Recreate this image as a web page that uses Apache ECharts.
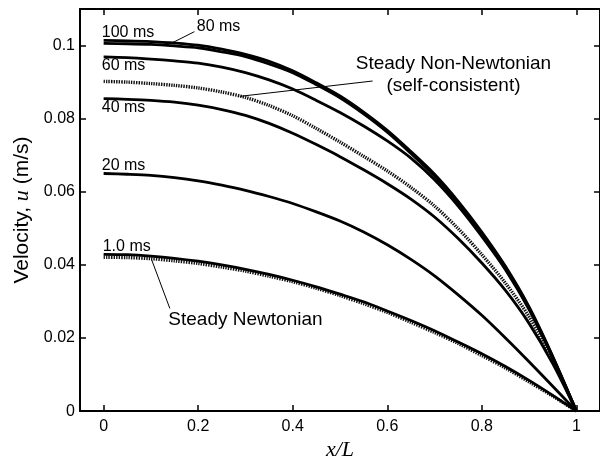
<!DOCTYPE html>
<html>
<head>
<meta charset="utf-8">
<script src="https://cdn.jsdelivr.net/npm/echarts@6/dist/echarts.min.js"></script>
<style>html,body{margin:0;padding:0;background:#fff}#c{width:600px;height:466px}</style>
</head>
<body>
<div id="c"></div>
<script>
// x positions (x/L)
const xs = [0, 0.05, 0.1, 0.15, 0.2, 0.25, 0.3, 0.35, 0.4, 0.45, 0.5, 0.55, 0.6, 0.65, 0.7, 0.75, 0.8, 0.85, 0.9, 0.95, 1.0];
// velocity profiles u (m/s)
const u100ms   = [0.1014, 0.1013, 0.1011, 0.1007, 0.1001, 0.0990, 0.0976, 0.0957, 0.0931, 0.0898, 0.0862, 0.0818, 0.0768, 0.0710, 0.0648, 0.0574, 0.0490, 0.0396, 0.0285, 0.0150, 0];
const u80ms    = [0.1006, 0.1005, 0.1003, 0.0999, 0.0994, 0.0983, 0.0970, 0.0950, 0.0926, 0.0893, 0.0857, 0.0813, 0.0763, 0.0705, 0.0643, 0.0570, 0.0486, 0.0393, 0.0282, 0.0148, 0];
const u60ms    = [0.0969, 0.0967, 0.0963, 0.0958, 0.0952, 0.0941, 0.0926, 0.0906, 0.0881, 0.0850, 0.0817, 0.0780, 0.0739, 0.0692, 0.0633, 0.0561, 0.0478, 0.0387, 0.0278, 0.0146, 0];
const uNonNewt = [0.0902, 0.0900, 0.0896, 0.0891, 0.0884, 0.0873, 0.0858, 0.0836, 0.0808, 0.0773, 0.0736, 0.0697, 0.0657, 0.0612, 0.0561, 0.0499, 0.0428, 0.0350, 0.0258, 0.0140, 0];
const u40ms    = [0.0855, 0.0853, 0.0850, 0.0845, 0.0837, 0.0825, 0.0809, 0.0787, 0.0760, 0.0729, 0.0696, 0.0660, 0.0622, 0.0580, 0.0531, 0.0472, 0.0405, 0.0330, 0.0240, 0.0130, 0];
const u20ms    = [0.0650, 0.0648, 0.0645, 0.0639, 0.0630, 0.0618, 0.0604, 0.0587, 0.0568, 0.0545, 0.0520, 0.0490, 0.0455, 0.0415, 0.0370, 0.0318, 0.0262, 0.0200, 0.0135, 0.0068, 0];
const u1ms     = [0.0429, 0.0428, 0.0424, 0.0418, 0.0410, 0.0400, 0.0388, 0.0374, 0.0358, 0.0340, 0.0320, 0.0299, 0.0274, 0.0248, 0.0220, 0.0189, 0.0157, 0.0122, 0.0084, 0.0043, 0];
const uNewt    = [0.0421, 0.0420, 0.0417, 0.0411, 0.0404, 0.0394, 0.0383, 0.0369, 0.0354, 0.0336, 0.0316, 0.0294, 0.0270, 0.0243, 0.0215, 0.0185, 0.0152, 0.0118, 0.0080, 0.0041, 0];

// tick labels
const xTicks = [0, 0.2, 0.4, 0.6, 0.8, 1];
const yTicks = [0, 0.02, 0.04, 0.06, 0.08, 0.1];

// annotation texts (data units): [x, u, text, align, fontSize]
const labels = [
  [-0.004, 0.1036, '100 ms', 'left', 16],
  [0.197, 0.1053, '80 ms', 'left', 16],
  [-0.004, 0.0945, '60 ms', 'left', 16],
  [-0.004, 0.0831, '40 ms', 'left', 16],
  [-0.004, 0.0672, '20 ms', 'left', 16],
  [-0.002, 0.0450, '1.0 ms', 'left', 16],
  [0.740, 0.0949, 'Steady Non-Newtonian', 'center', 19],
  [0.740, 0.0889, '(self-consistent)', 'center', 19],
  [0.300, 0.0250, 'Steady Newtonian', 'center', 19]
];
// leader lines (data units)
const leaders = [
  [[0.192, 0.1038], [0.146, 0.1008]],
  [[0.569, 0.0903], [0.288, 0.0861]],
  [[0.101, 0.0416], [0.140, 0.0281]]
];

const FONT = 'Arial, "Liberation Sans", Helvetica, sans-serif';
const SERIF = '"Liberation Serif", "Times New Roman", serif';
const pair = arr => xs.map((x, i) => [x, arr[i]]);
const fmt = v => String(+v.toFixed(3));

const solid = (name, arr) => ({
  name, type: 'line', data: pair(arr), smooth: 0.3, symbol: 'none',
  lineStyle: { color: '#000', width: 2.8 }, z: 5
});
const dotted = (name, arr) => ({
  name, type: 'line', data: pair(arr), smooth: 0.3, symbol: 'none',
  lineStyle: { color: '#111', width: 3.4, type: [1.4, 1.1], cap: 'butt' }, z: 4
});

const series = [
  dotted('Steady Newtonian', uNewt),
  dotted('Steady Non-Newtonian', uNonNewt),
  solid('1.0 ms', u1ms),
  solid('20 ms', u20ms),
  solid('40 ms', u40ms),
  solid('60 ms', u60ms),
  solid('80 ms', u80ms),
  solid('100 ms', u100ms)
];
leaders.forEach(l => series.push({
  type: 'line', data: l, symbol: 'none', silent: true,
  lineStyle: { color: '#000', width: 1 }, z: 6
}));

const tickStyle = { color: '#000', width: 1.5 };
const chart = echarts.init(document.getElementById('c'), null, { renderer: 'canvas' });
chart.setOption({
  animation: false,
  backgroundColor: '#fff',
  grid: { left: 80, top: 9, right: 0, bottom: 50 },
  xAxis: [{
    type: 'value', min: -0.05, max: 1.05, position: 'bottom',
    axisLine: { show: true, onZero: false, lineStyle: { color: '#000', width: 2 } },
    axisTick: { show: true, inside: true, length: 6, customValues: xTicks, lineStyle: tickStyle },
    axisLabel: { customValues: xTicks, formatter: fmt, color: '#000', fontSize: 16, fontFamily: FONT, margin: 7 },
    splitLine: { show: false },
    name: 'x/L', nameLocation: 'middle', nameGap: 26,
    nameTextStyle: { color: '#000', fontSize: 22, fontStyle: 'italic', fontFamily: SERIF }
  }, {
    type: 'value', min: -0.05, max: 1.05, position: 'top',
    axisLine: { show: true, onZero: false, lineStyle: { color: '#000', width: 2 } },
    axisTick: { show: true, inside: true, length: 6, customValues: xTicks, lineStyle: tickStyle },
    axisLabel: { show: false }, splitLine: { show: false }
  }],
  yAxis: [{
    type: 'value', min: 0, max: 0.11, position: 'left',
    axisLine: { show: true, onZero: false, lineStyle: { color: '#000', width: 2 } },
    axisTick: { show: true, inside: true, length: 6, customValues: yTicks, lineStyle: tickStyle },
    axisLabel: { customValues: yTicks, formatter: fmt, color: '#000', fontSize: 16, fontFamily: FONT, margin: 5 },
    splitLine: { show: false },
    name: 'Velocity, {i|u} (m/s)', nameLocation: 'middle', nameGap: 47,
    nameTextStyle: {
      color: '#000', fontSize: 21, fontFamily: FONT,
      rich: { i: { fontStyle: 'italic', fontSize: 22, fontFamily: SERIF, color: '#000' } }
    }
  }, {
    type: 'value', min: 0, max: 0.11, position: 'right',
    axisLine: { show: true, onZero: false, lineStyle: { color: '#000', width: 2 } },
    axisTick: { show: true, inside: true, length: 6, customValues: yTicks, lineStyle: tickStyle },
    axisLabel: { show: false }, splitLine: { show: false }
  }],
  series
});

// annotation texts placed from data units through the chart's own scales
const graphics = labels.map(l => {
  const p = chart.convertToPixel({ xAxisIndex: 0, yAxisIndex: 0 }, [l[0], l[1]]);
  return {
    type: 'text', x: p[0], y: p[1], z: 100, silent: true,
    style: { text: l[2], fill: '#000', font: l[4] + 'px ' + FONT, align: l[3], verticalAlign: 'middle' }
  };
});
chart.setOption({ graphic: graphics });
</script>
</body>
</html>
